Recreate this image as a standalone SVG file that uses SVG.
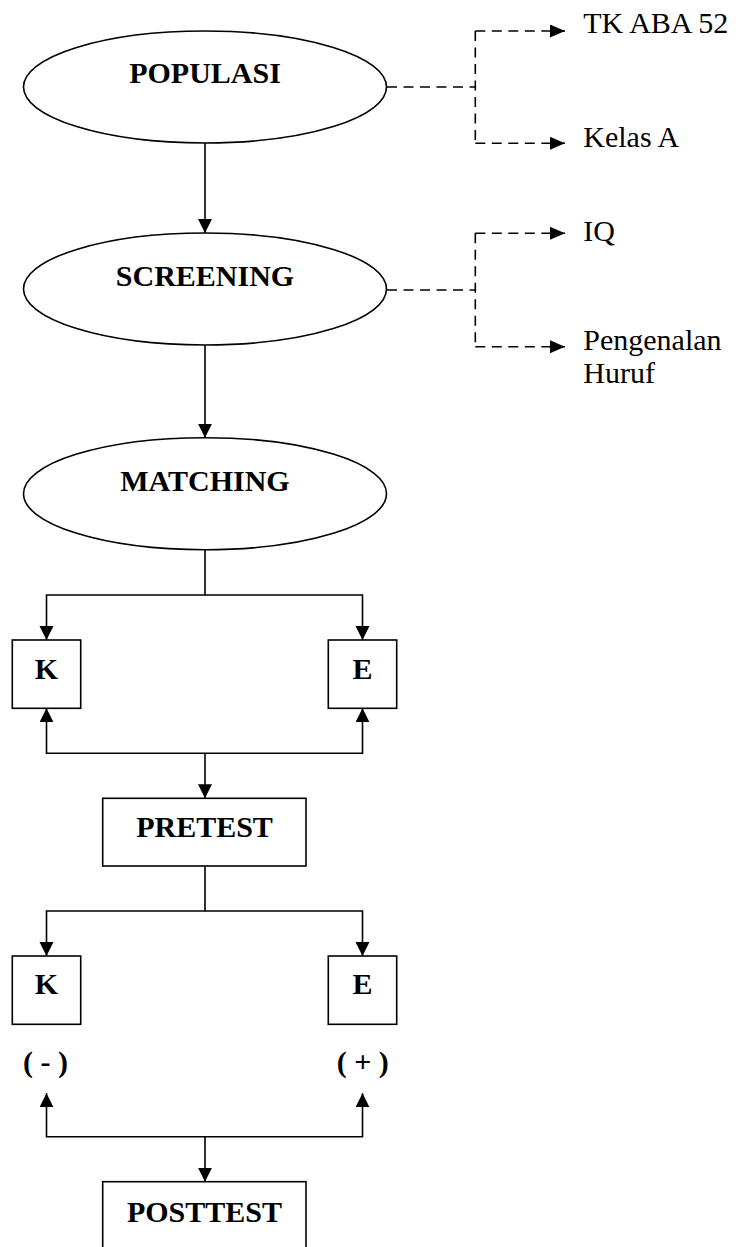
<svg xmlns="http://www.w3.org/2000/svg" width="739" height="1247" viewBox="0 0 739 1247">
<style>
.shape{fill:#fff;stroke:#000;stroke-width:1.6}
.line{fill:none;stroke:#000;stroke-width:1.6}
.dash{fill:none;stroke:#000;stroke-width:1.6;stroke-dasharray:10 6.5}
.b{font-family:"Liberation Serif",serif;font-weight:bold;font-size:30px;text-anchor:middle;fill:#000}
.r{font-family:"Liberation Serif",serif;font-weight:normal;font-size:30px;fill:#000}
</style>
<defs>
<marker id="arr" markerUnits="userSpaceOnUse" markerWidth="15" markerHeight="15" refX="14" refY="7" orient="auto">
<path d="M0,0 L14,7 L0,14 z" fill="#000"/>
</marker>
<marker id="arrd" markerUnits="userSpaceOnUse" markerWidth="16" markerHeight="14" refX="15" refY="6.5" orient="auto">
<path d="M0,0 L15,6.5 L0,13 z" fill="#000"/>
</marker>
</defs>
<rect width="739" height="1247" fill="#fff"/>
<g id="connectors">
<path class="line" d="M205 143 V233" marker-end="url(#arr)"/>
<path class="line" d="M205 345 V437.7" marker-end="url(#arr)"/>
<path class="line" d="M205 549.7 V595 H46.5 V640" marker-end="url(#arr)"/>
<path class="line" d="M205 595 H362.5 V640" marker-end="url(#arr)"/>
<path class="line" d="M205 753.3 H46.5 V708.3" marker-end="url(#arr)"/>
<path class="line" d="M205 753.3 H362.5 V708.3" marker-end="url(#arr)"/>
<path class="line" d="M205 753.3 V798.3" marker-end="url(#arr)"/>
<path class="line" d="M205 866 V911 H46.5 V956" marker-end="url(#arr)"/>
<path class="line" d="M205 911 H362.5 V956" marker-end="url(#arr)"/>
<path class="line" d="M205 1136.7 H46.5 V1093.3" marker-end="url(#arr)"/>
<path class="line" d="M205 1136.7 H362.5 V1093.3" marker-end="url(#arr)"/>
<path class="line" d="M205 1136.7 V1181.7" marker-end="url(#arr)"/>
<path class="dash" d="M387 87 H475.3"/>
<path class="dash" d="M475.3 31 V143.3"/>
<path class="dash" d="M475.3 31 H565" marker-end="url(#arrd)"/>
<path class="dash" d="M475.3 143.3 H565" marker-end="url(#arrd)"/>
<path class="dash" d="M387 290 H475.3"/>
<path class="dash" d="M475.3 233.3 V346.7"/>
<path class="dash" d="M475.3 233.3 H565" marker-end="url(#arrd)"/>
<path class="dash" d="M475.3 346.7 H565" marker-end="url(#arrd)"/>
</g>
<g id="populasi">
<ellipse class="shape" cx="205" cy="87" rx="181.5" ry="56"/>
<text class="b" x="205" y="83.3">POPULASI</text>
</g>
<g id="screening">
<ellipse class="shape" cx="205" cy="289" rx="181.5" ry="56"/>
<text class="b" x="205" y="286">SCREENING</text>
</g>
<g id="matching">
<ellipse class="shape" cx="205" cy="493.7" rx="181.5" ry="56"/>
<text class="b" x="205" y="490.7">MATCHING</text>
</g>
<g id="k1">
<rect class="shape" x="12.3" y="640" width="68.4" height="68.3"/>
<text class="b" x="46.5" y="679">K</text>
</g>
<g id="e1">
<rect class="shape" x="328.3" y="640" width="68.4" height="68.3"/>
<text class="b" x="362.5" y="679">E</text>
</g>
<g id="pretest">
<rect class="shape" x="102.7" y="798.3" width="203.3" height="67.7"/>
<text class="b" x="204.5" y="837.3">PRETEST</text>
</g>
<g id="k2">
<rect class="shape" x="12.3" y="956" width="68.4" height="68.3"/>
<text class="b" x="46.5" y="994.3">K</text>
<text class="b" x="45.5" y="1071.7">( - )</text>
</g>
<g id="e2">
<rect class="shape" x="328.3" y="956" width="68.4" height="68.3"/>
<text class="b" x="362.5" y="994.3">E</text>
<text class="b" x="362.8" y="1071.7">( + )</text>
</g>
<g id="posttest">
<rect class="shape" x="102.7" y="1181.7" width="203.3" height="68"/>
<text class="b" x="204.5" y="1221.7">POSTTEST</text>
</g>
<g id="tk-aba">
<text class="r" x="583.3" y="33.3">TK ABA 52</text>
</g>
<g id="kelas-a">
<text class="r" x="583.3" y="146.7">Kelas A</text>
</g>
<g id="iq">
<text class="r" x="583.3" y="240.7">IQ</text>
</g>
<g id="pengenalan">
<text class="r" x="583.3" y="350">Pengenalan</text>
<text class="r" x="583.3" y="383.3">Huruf</text>
</g>
</svg>
